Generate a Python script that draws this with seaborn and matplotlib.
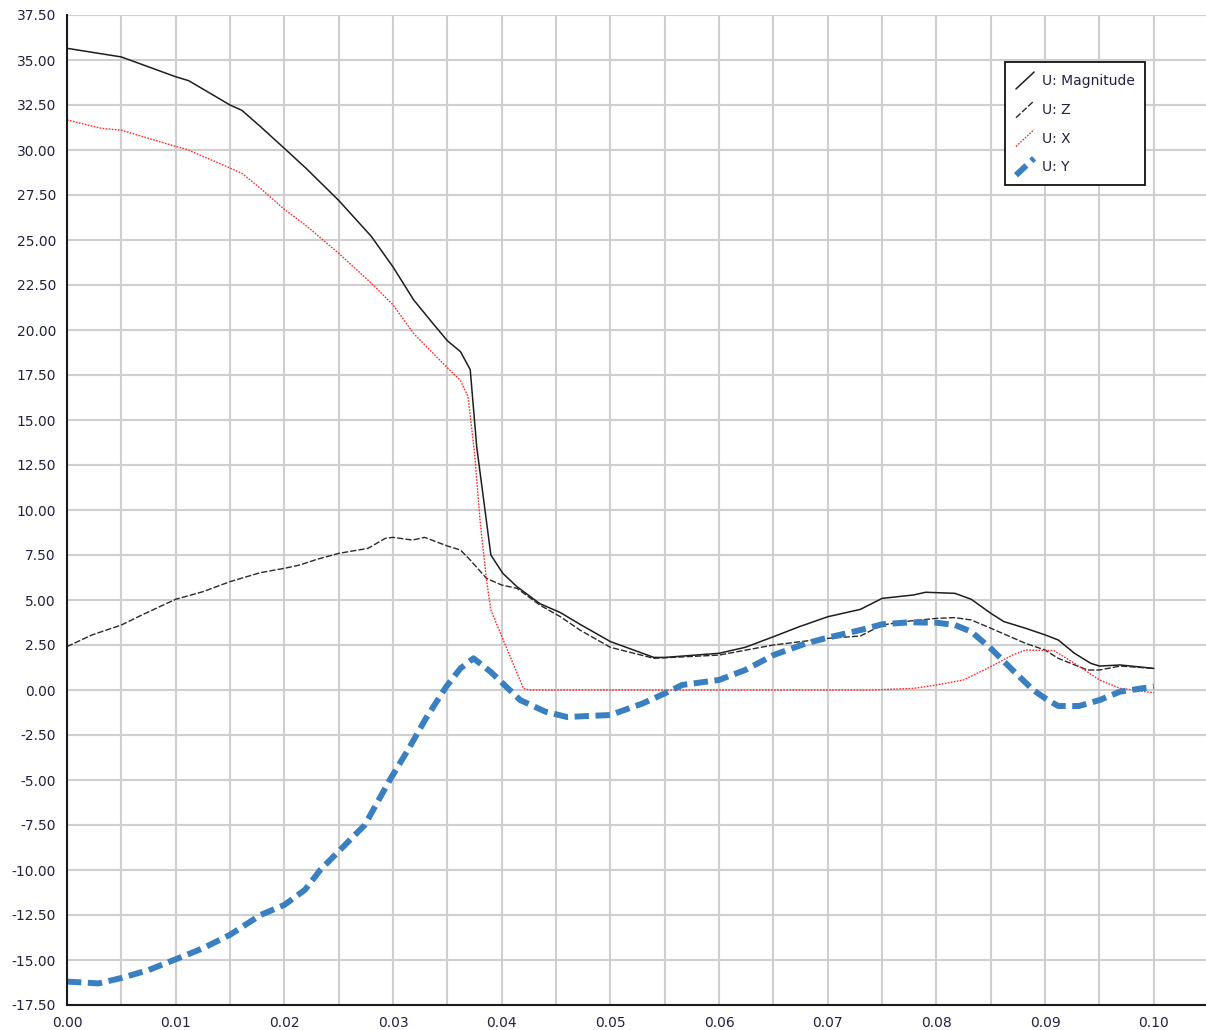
import numpy as np
import pandas as pd
import matplotlib
matplotlib.use("Agg")
import matplotlib.pyplot as plt
import seaborn as sns
from matplotlib.lines import Line2D
from matplotlib.legend_handler import HandlerLine2D
from matplotlib.ticker import MultipleLocator, FuncFormatter

# ---- data -------------------------------------------------------------
mag_x = [0.0000, 0.0050, 0.0100, 0.0112, 0.0150, 0.0161, 0.0178, 0.0200, 0.0220,
         0.0250, 0.0280, 0.0300, 0.0319, 0.0334, 0.0350, 0.0362, 0.0371, 0.0377,
         0.0390, 0.0401, 0.0414, 0.0435, 0.0454, 0.0472, 0.0500, 0.0540, 0.0550,
         0.0600, 0.0624, 0.0650, 0.0673, 0.0700, 0.0730, 0.0750, 0.0779, 0.0790,
         0.0817, 0.0832, 0.0850, 0.0862, 0.0882, 0.0900, 0.0912, 0.0927, 0.0942,
         0.0950, 0.0969, 0.0984, 0.1000]
mag_y = [35.65, 35.17, 34.07, 33.85, 32.50, 32.20, 31.30, 30.09, 28.98,
         27.20, 25.20, 23.50, 21.67, 20.56, 19.40, 18.80, 17.80, 13.50,
         7.50, 6.48, 5.74, 4.80, 4.30, 3.65, 2.69, 1.81, 1.81,
         2.04, 2.37, 2.96, 3.50, 4.07, 4.48, 5.09, 5.28, 5.43,
         5.37, 5.04, 4.26, 3.80, 3.43, 3.06, 2.78, 2.04, 1.48,
         1.33, 1.39, 1.30, 1.20]

z_x = [0.0000, 0.0023, 0.0050, 0.0069, 0.0100, 0.0125, 0.0150, 0.0178, 0.0200,
       0.0214, 0.0230, 0.0250, 0.0277, 0.0293, 0.0300, 0.0318, 0.0329, 0.0350,
       0.0362, 0.0371, 0.0386, 0.0400, 0.0414, 0.0435, 0.0454, 0.0472, 0.0500,
       0.0540, 0.0600, 0.0650, 0.0700, 0.0730, 0.0750, 0.0775, 0.0800, 0.0817,
       0.0832, 0.0850, 0.0882, 0.0900, 0.0912, 0.0939, 0.0950, 0.0969, 0.1000]
z_y = [2.41, 3.06, 3.61, 4.17, 5.04, 5.46, 6.02, 6.52, 6.76,
       6.94, 7.26, 7.59, 7.87, 8.43, 8.48, 8.33, 8.48, 8.00,
       7.78, 7.22, 6.20, 5.83, 5.65, 4.72, 4.07, 3.33, 2.37,
       1.76, 1.94, 2.50, 2.87, 3.00, 3.61, 3.83, 3.98, 4.02,
       3.89, 3.43, 2.59, 2.22, 1.76, 1.11, 1.11, 1.33, 1.20]

ux_x = [0.0000, 0.0032, 0.0050, 0.0100, 0.0110, 0.0150, 0.0161, 0.0178, 0.0200,
        0.0220, 0.0250, 0.0280, 0.0300, 0.0319, 0.0349, 0.0362, 0.0369, 0.0375,
        0.0380, 0.0386, 0.0390, 0.0404, 0.0420, 0.0425, 0.0600, 0.0740, 0.0779,
        0.0800, 0.0825, 0.0850, 0.0870, 0.0882, 0.0908, 0.0927, 0.0950, 0.0969,
        0.1000]
ux_y = [31.67, 31.20, 31.10, 30.20, 30.04, 29.00, 28.70, 27.87, 26.70,
        25.80, 24.26, 22.60, 21.40, 19.80, 17.96, 17.20, 16.30, 13.15,
        9.44, 6.10, 4.44, 2.40, 0.09, 0.00, 0.00, 0.00, 0.09,
        0.28, 0.56, 1.30, 1.94, 2.22, 2.19, 1.48, 0.56, 0.09,
        -0.15]

uy_x = [0.0000, 0.0029, 0.0050, 0.0075, 0.0100, 0.0125, 0.0150, 0.0178, 0.0200,
        0.0219, 0.0233, 0.0251, 0.0274, 0.0297, 0.0315, 0.0330, 0.0349, 0.0362,
        0.0374, 0.0390, 0.0417, 0.0440, 0.0460, 0.0481, 0.0500, 0.0530, 0.0550,
        0.0566, 0.0600, 0.0624, 0.0650, 0.0680, 0.0700, 0.0730, 0.0750, 0.0775,
        0.0800, 0.0817, 0.0832, 0.0850, 0.0870, 0.0889, 0.0900, 0.0912, 0.0931,
        0.0950, 0.0969, 0.1000]
uy_y = [-16.20, -16.30, -16.00, -15.56, -14.96, -14.35, -13.60, -12.50, -11.94,
        -11.10, -10.00, -8.90, -7.50, -5.00, -3.20, -1.60, 0.19, 1.20,
        1.76, 1.00, -0.56, -1.20, -1.50, -1.44, -1.39, -0.74, -0.19,
        0.28, 0.56, 1.11, 1.94, 2.59, 2.91, 3.33, 3.65, 3.76,
        3.74, 3.61, 3.24, 2.31, 1.11, 0.00, -0.46, -0.89, -0.89,
        -0.56, -0.09, 0.19]

series_labels = ["U: Magnitude", "U: Z", "U: X", "U: Y"]

# ---- figure -----------------------------------------------------------
sns.set_style("white")
plt.rcParams["font.family"] = ["DejaVu Sans"]

fig = plt.figure(figsize=(12.06, 10.30), dpi=100)
ax = fig.add_axes([67 / 1206, 25 / 1030, 1139 / 1206, 990 / 1030])

sns.lineplot(x=mag_x, y=mag_y, ax=ax, color="#1e1e1e", lw=1.1,
             linestyle="-", label=series_labels[0])
sns.lineplot(x=z_x, y=z_y, ax=ax, color="#2a2a2a", lw=1.0,
             linestyle=(0, (4.5, 1.5)), label=series_labels[1])
sns.lineplot(x=ux_x, y=ux_y, ax=ax, color="#ff2a2a", lw=1.0,
             linestyle=(0, (1.2, 1.0)), label=series_labels[2])
sns.lineplot(x=uy_x, y=uy_y, ax=ax, color="#3a80c0", lw=4.3,
             linestyle=(0, (2.4, 1.1)), dash_capstyle="butt",
             label=series_labels[3])

ax.set_xlim(0, 0.1048)
ax.set_ylim(-17.5, 37.5)

ax.xaxis.set_major_locator(MultipleLocator(0.005))
ax.yaxis.set_major_locator(MultipleLocator(2.5))
ax.xaxis.set_major_formatter(FuncFormatter(
    lambda v, p: f"{v:.2f}" if abs(round(v / 0.005)) % 2 == 0 else ""))
ax.yaxis.set_major_formatter(FuncFormatter(lambda v, p: f"{v:.2f}"))

ax.grid(True, color="#cfcfcf", lw=1.5)
ax.set_axisbelow(True)

for side in ("top", "right"):
    ax.spines[side].set_visible(False)
for side in ("left", "bottom"):
    ax.spines[side].set_color("#1a1a1a")
    ax.spines[side].set_linewidth(1.5)

ax.tick_params(axis="both", direction="out", length=6, width=1.4,
               color="#1a1a1a", labelsize=10, labelcolor="#22223f", pad=2)
ax.set_xlabel("")
ax.set_ylabel("")


class DiagonalLineHandler(HandlerLine2D):
    """Legend key drawn as a short rising diagonal stroke."""

    def create_artists(self, legend, orig_handle, xdescent, ydescent,
                       width, height, fontsize, trans):
        x0, y0 = -xdescent, -ydescent
        line = Line2D([x0 + 0.05 * width, x0 + 0.95 * width],
                      [y0, y0 + height])
        self.update_prop(line, orig_handle, legend)
        line.set_transform(trans)
        return [line]


handles = ax.get_lines()[:4]
leg = ax.legend(handles=handles, labels=series_labels,
                handler_map={Line2D: DiagonalLineHandler()},
                loc="upper left", bbox_to_anchor=(0.8235, 0.9525),
                borderaxespad=0, fancybox=False, frameon=True,
                fontsize=10, handlelength=1.45, handleheight=1.5,
                labelspacing=0.85, handletextpad=0.5, borderpad=0.72)
leg.get_frame().set_edgecolor("#111111")
leg.get_frame().set_linewidth(1.3)
leg.get_frame().set_facecolor("white")
leg.get_frame().set_alpha(1)
for t in leg.get_texts():
    t.set_color("#22223f")

fig.savefig("out.png", dpi=100)
